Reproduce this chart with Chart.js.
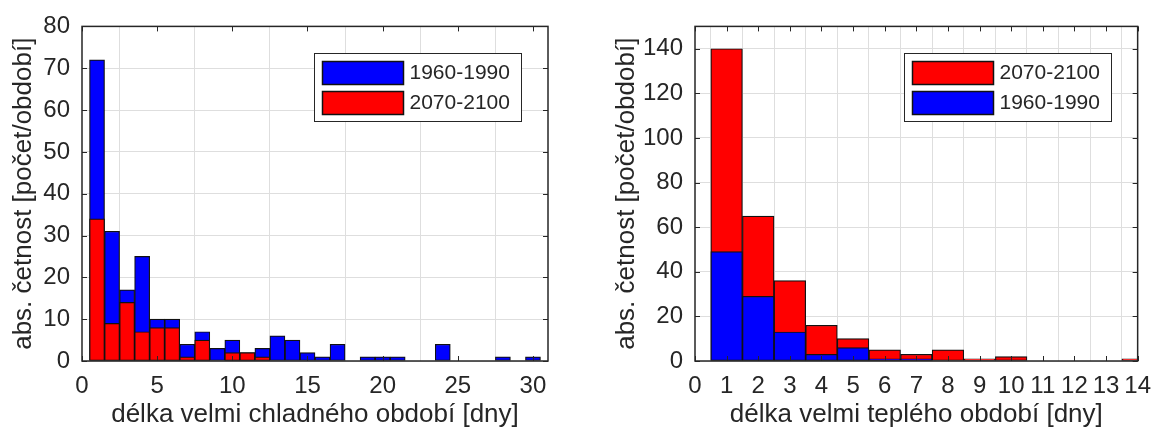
<!DOCTYPE html>
<html lang="cs">
<head>
<meta charset="utf-8">
<title>Délka velmi chladných a velmi teplých období</title>
<script src="https://cdn.jsdelivr.net/npm/chart.js@4"></script>
<style>
  html, body { margin: 0; padding: 0; background: #fff; }
  #wrap { position: relative; width: 1162px; height: 433px; }
  .panel { position: absolute; top: 0; width: 581px; height: 433px; }
  #p-cold { left: 0; }
  #p-warm { left: 581px; }
</style>
</head>
<body>
<div id="wrap">
  <div class="panel" id="p-cold"><canvas id="chart-cold"></canvas></div>
  <div class="panel" id="p-warm"><canvas id="chart-warm"></canvas></div>
</div>
<script>
// četnosti period podle délky (počet/období), koše po 1 dni
const coldDays = [1, 2, 3, 4, 5, 6, 7, 8, 9, 10, 11, 12, 13, 14, 15,
                  16, 17, 18, 19, 20, 21, 22, 23, 24, 25, 26, 27, 28, 29, 30];
const cold1960 = [72, 31, 17, 25, 10, 10, 4, 7, 3, 5, 2, 3, 6, 5, 2,
                  1, 4, 0, 1, 1, 1, 0, 0, 4, 0, 0, 0, 1, 0, 1];
const cold2070 = [34, 9, 14, 7, 8, 8, 1, 5, 0, 2, 2, 1, 0, 0, 0,
                  0, 0, 0, 0, 0, 0, 0, 0, 0, 0, 0, 0, 0, 0, 0];

const warmDays = [1, 2, 3, 4, 5, 6, 7, 8, 9, 10, 11, 12, 13, 14];
const warm2070 = [140, 65, 36, 16, 10, 5, 3, 5, 1, 2, 0, 0, 0, 1];
const warm1960 = [49, 29, 13, 3, 6, 1, 1, 0, 0, 0, 0, 0, 0, 0];

const coldXTicks = [0, 5, 10, 15, 20, 25, 30];
const coldYTicks = [0, 10, 20, 30, 40, 50, 60, 70, 80];
const warmXTicks = [0, 1, 2, 3, 4, 5, 6, 7, 8, 9, 10, 11, 12, 13, 14];
const warmYTicks = [0, 20, 40, 60, 80, 100, 120, 140];

const BLUE = "#0000ff";
const RED = "#ff0000";
const INK = "#262626";
const GRID = "#dedede";
const FONT = "'Liberation Sans', Arial, sans-serif";

Chart.defaults.font.family = FONT;
Chart.defaults.color = INK;

// rámeček kolem grafu, tick značky dovnitř na všech čtyřech stranách a legenda v rohu
const ramecek = {
  id: "ramecek",
  afterDatasetsDraw(chart) {
    const { ctx, chartArea: a, scales: { x, y } } = chart;
    const T = 5;
    ctx.save();
    ctx.strokeStyle = INK;
    ctx.lineWidth = 1;
    ctx.beginPath();
    x.ticks.forEach(t => {
      const px = Math.round(x.getPixelForValue(t.value)) + 0.5;
      ctx.moveTo(px, a.bottom); ctx.lineTo(px, a.bottom - T);
      ctx.moveTo(px, a.top); ctx.lineTo(px, a.top + T);
    });
    y.ticks.forEach(t => {
      const py = Math.round(y.getPixelForValue(t.value)) + 0.5;
      ctx.moveTo(a.left, py); ctx.lineTo(a.left + T, py);
      ctx.moveTo(a.right, py); ctx.lineTo(a.right - T, py);
    });
    ctx.stroke();
    ctx.lineWidth = 1.5;
    ctx.strokeRect(a.left, a.top, a.right - a.left, a.bottom - a.top);

    // legenda: pořadí jako v data.datasets
    const w = 207, h = 68;
    const lx = Math.round(a.right - 27 - w) + 0.5, ly = Math.round(a.top + 27) + 0.5;
    ctx.fillStyle = "#fff";
    ctx.fillRect(lx, ly, w, h);
    ctx.lineWidth = 1;
    ctx.strokeRect(lx, ly, w, h);
    ctx.font = "21px " + FONT;
    ctx.textBaseline = "middle";
    ctx.textAlign = "left";
    chart.data.datasets.forEach((ds, i) => {
      const sy = ly + 8 + i * 30;
      ctx.fillStyle = ds.backgroundColor;
      ctx.fillRect(lx + 8, sy, 81, 23);
      ctx.strokeStyle = "#111";
      ctx.lineWidth = 1.5;
      ctx.strokeRect(lx + 8, sy, 81, 23);
      ctx.fillStyle = INK;
      ctx.fillText(ds.label, lx + 95, sy + 12);
    });
    ctx.restore();
  }
};

function sloupce(label, days, values, color, order) {
  return {
    label,
    data: days.map((d, i) => ({ x: d, y: values[i] })),
    backgroundColor: color,
    borderColor: "#111",
    borderWidth: 1.2,
    borderSkipped: false,
    barPercentage: 1,
    categoryPercentage: 1,
    grouped: false,
    order
  };
}

function histogram(canvasId, cfg) {
  new Chart(document.getElementById(canvasId), {
    type: "bar",
    data: { datasets: cfg.datasets },
    options: {
      responsive: true,
      maintainAspectRatio: false,
      animation: false,
      events: [],
      layout: { padding: { top: 20, right: cfg.padRight, left: 0, bottom: 0 } },
      plugins: { legend: { display: false }, tooltip: { enabled: false } },
      scales: {
        x: {
          type: "linear",
          offset: false,
          min: 0,
          max: cfg.xMax,
          afterBuildTicks: ax => { ax.ticks = cfg.xTicks.map(v => ({ value: v })); },
          afterFit: ax => { ax.height = 72; },
          grid: { color: GRID, drawTicks: false },
          border: { display: false },
          ticks: { font: { size: 24 }, padding: 11, maxRotation: 0, autoSkip: false },
          title: {
            display: true,
            text: cfg.xTitle,
            font: { size: 26 },
            padding: { top: 0, bottom: 3 }
          }
        },
        y: {
          min: 0,
          max: cfg.yMax,
          afterBuildTicks: ax => { ax.ticks = cfg.yTicks.map(v => ({ value: v })); },
          afterFit: ax => { ax.width = cfg.yWidth; },
          grid: { color: GRID, drawTicks: false },
          border: { display: false },
          ticks: { font: { size: 24 }, padding: 12 },
          title: {
            display: true,
            text: "abs. četnost [počet/období]",
            font: { size: 26, lineHeight: 1 },
            padding: { top: cfg.yTitlePad, bottom: 0 }
          }
        }
      }
    },
    plugins: [ramecek]
  });
}

histogram("chart-cold", {
  datasets: [
    sloupce("1960-1990", coldDays, cold1960, BLUE, 1),
    sloupce("2070-2100", coldDays, cold2070, RED, 0)
  ],
  xMax: 31, yMax: 80,
  xTicks: coldXTicks, yTicks: coldYTicks,
  xTitle: "délka velmi chladného období [dny]",
  yWidth: 82, padRight: 33, yTitlePad: 10.5
});

histogram("chart-warm", {
  datasets: [
    sloupce("2070-2100", warmDays, warm2070, RED, 1),
    sloupce("1960-1990", warmDays, warm1960, BLUE, 0)
  ],
  xMax: 14, yMax: 150,
  xTicks: warmXTicks, yTicks: warmYTicks,
  xTitle: "délka velmi teplého období [dny]",
  yWidth: 114, padRight: 15, yTitlePad: 32.5
});
</script>
</body>
</html>
